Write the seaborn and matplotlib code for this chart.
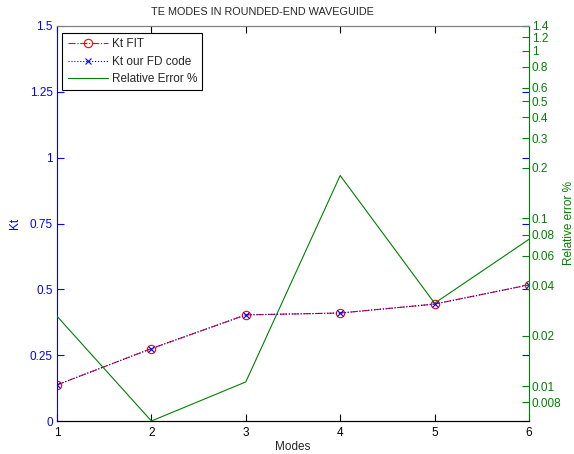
import matplotlib
matplotlib.use("Agg")
import matplotlib.pyplot as plt
import seaborn as sns
import pandas as pd
from matplotlib.ticker import FixedLocator, FixedFormatter, NullLocator

modes = [1, 2, 3, 4, 5, 6]
kt_fit = [0.137, 0.275, 0.403, 0.410, 0.444, 0.517]
kt_fd = [0.137, 0.275, 0.403, 0.410, 0.444, 0.517]
rel_err = [0.0261, 0.0062, 0.0106, 0.180, 0.0312, 0.075]

left_ticks = [0, 0.25, 0.5, 0.75, 1, 1.25, 1.5]
left_labels = ["0", "0.25", "0.5", "0.75", "1", "1.25", "1.5"]
right_ticks = [0.008, 0.01, 0.02, 0.04, 0.06, 0.08, 0.1, 0.2, 0.3, 0.4, 0.5, 0.6, 0.8, 1, 1.2, 1.4]
right_labels = ["0.008", "0.01", "0.02", "0.04", "0.06", "0.08", "0.1", "0.2", "0.3", "0.4", "0.5", "0.6", "0.8", "1", "1.2", "1.4"]

sns.set_style("white")
plt.rcParams["font.family"] = ["Liberation Sans", "DejaVu Sans"]
plt.rcParams["font.size"] = 8.5

df = pd.DataFrame({"Modes": modes, "fit": kt_fit, "fd": kt_fd, "err": rel_err})

BLUE = "#0000ff"
GREEN = "#008000"
FS = 8.5

fig = plt.figure(figsize=(5.74, 4.54), dpi=100)
ax1 = fig.add_axes([57/574, 33/454, (529-57)/574, (421-26)/454])
ax2 = ax1.twinx()

sns.lineplot(data=df, x="Modes", y="fit", ax=ax1, color="red", linestyle="-.",
             marker="o", markersize=6, markerfacecolor="none", markeredgecolor="red",
             markeredgewidth=0.8, linewidth=0.8, label="Kt FIT", legend=False)
sns.lineplot(data=df, x="Modes", y="fd", ax=ax1, color=BLUE, linestyle=":",
             marker="x", markersize=5, markeredgecolor=BLUE, markeredgewidth=0.8,
             linewidth=0.8, label="Kt our FD code", legend=False)
sns.lineplot(data=df, x="Modes", y="err", ax=ax2, color=GREEN, linestyle="-",
             linewidth=0.8, label="Relative Error %", legend=False)

ax1.set_xlim(1, 6)
ax1.set_ylim(0, 1.5)
ax1.set_xticks(modes)
ax1.set_xticklabels([str(m) for m in modes])
ax1.yaxis.set_major_locator(FixedLocator(left_ticks))
ax1.yaxis.set_major_formatter(FixedFormatter(left_labels))
ax1.tick_params(axis="y", colors=BLUE, direction="in", length=5, width=0.8,
                left=True, right=True, labelsize=FS, pad=3)
ax1.tick_params(axis="x", colors="black", direction="in", length=5, width=0.8,
                top=True, bottom=True, labelsize=FS, pad=4)

ax2.set_yscale("log")
ax2.set_ylim(0.0062, 1.4)
ax2.yaxis.set_major_locator(FixedLocator(right_ticks))
ax2.yaxis.set_major_formatter(FixedFormatter(right_labels))
ax2.yaxis.set_minor_locator(NullLocator())
ax2.tick_params(axis="y", colors=GREEN, direction="in", length=5, width=0.8,
                left=False, right=True, labelsize=FS, pad=2)

for ax in (ax1, ax2):
    for s in ax.spines.values():
        s.set_linewidth(0.8)
ax1.spines["left"].set_color(BLUE)
ax1.spines["bottom"].set_color("black")
ax1.spines["top"].set_color("#808080")
ax1.spines["right"].set_visible(False)
ax2.spines["right"].set_color(GREEN)
ax2.spines["left"].set_visible(False)
ax2.spines["top"].set_color("#808080")
ax2.spines["bottom"].set_color("black")

ax1.set_ylabel("Kt", color=BLUE, fontsize=FS, labelpad=6)
ax2.set_ylabel("Relative error %", color=GREEN, fontsize=FS, labelpad=1)
ax1.set_xlabel("Modes", fontsize=FS, labelpad=2)
ax1.set_title("TE MODES IN ROUNDED-END WAVEGUIDE", fontsize=7.8, pad=8,
              x=(262 - 57) / 472)
ax1.grid(False)
ax2.grid(False)

h1, l1 = ax1.get_legend_handles_labels()
h2, l2 = ax2.get_legend_handles_labels()
leg = ax2.legend(h1 + h2, l1 + l2, loc="upper left", bbox_to_anchor=(0.011, 0.982),
                 frameon=True, fancybox=False, framealpha=1, edgecolor="black",
                 fontsize=FS, borderpad=0.45, labelspacing=0.45, handlelength=3.4,
                 handletextpad=0.35, borderaxespad=0.0)
leg.get_frame().set_linewidth(0.8)

fig.savefig("out.png", dpi=100)
